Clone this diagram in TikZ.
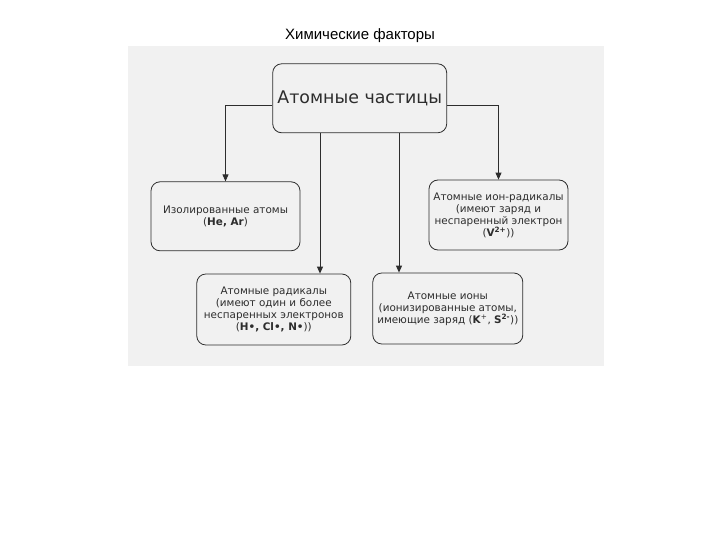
\documentclass[tikz,border=0pt]{standalone}
\usepackage{fontspec}
\setmainfont{DejaVu Sans}
\newfontfamily\titlefont{Liberation Sans}
\usetikzlibrary{arrows.meta}

\definecolor{scangray}{RGB}{241,241,241}
\definecolor{inkgray}{RGB}{45,45,45}

\tikzset{
	partbox/.style={draw=inkgray,line width=0.8pt,rounded corners=9pt,align=center,
		inner sep=2pt,font=\fontsize{10.4}{12}\selectfont,text=inkgray},
	feed/.style={draw=inkgray,line width=0.9pt,-{Triangle[width=6pt,length=7pt]}}
}

\begin{document}
\begin{tikzpicture}[x=1pt,y=-1pt]
	\useasboundingbox (0,0) rectangle (720,540);
	\fill[scangray] (128,46) rectangle (604,366);
	\node[font=\titlefont\fontsize{15}{17}\selectfont] (title) at (360,36) {Химические факторы};
	\node[partbox,minimum width=174,minimum height=69,font=\fontsize{17.4}{20}\selectfont] (top) at (359.7,98.3) {Атомные частицы};
	\node[partbox,minimum width=149,minimum height=69] (iso) at (225.5,216.3) {Изолированные атомы\\(\textbf{He, Ar})};
	\node[partbox,minimum width=139,minimum height=70] (ionrad) at (498.5,215) {Атомные ион-радикалы\\(имеют заряд и\\неспаренный электрон\\(\textbf{V}\textsuperscript{\textbf{2+}}))};
	\node[partbox,minimum width=154,minimum height=71] (rad) at (273.8,309.5) {Атомные радикалы\\(имеют один и более\\неспаренных электронов\\(\textbf{H•, Cl•, N•}))};
	\node[partbox,minimum width=150,minimum height=71] (ion) at (447.8,308.5) {Атомные ионы\\(ионизированные атомы,\\имеющие заряд (\textbf{K}\textsuperscript{+}, \textbf{S}\textsuperscript{\textbf{2-}}))};
	% connectors
	\draw[feed] ([yshift=-7.6]top.west) -| (iso.north);
	\draw[feed] ([yshift=-7.6]top.east) -| (ionrad.north);
	\draw[feed] ([xshift=-39.7]top.south) -- ([xshift=-39.7]top.south |- rad.north);
	\draw[feed] ([xshift=39.3]top.south) -- ([xshift=39.3]top.south |- ion.north);
\end{tikzpicture}
\end{document}
